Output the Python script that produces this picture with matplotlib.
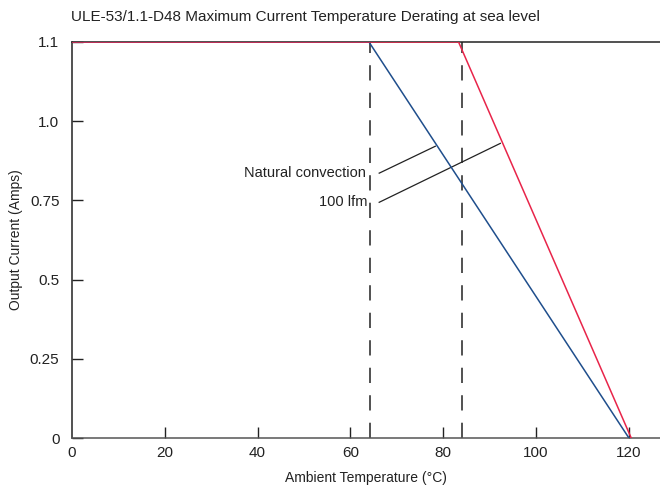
import matplotlib.pyplot as plt

plt.rcParams['font.family'] = ['Liberation Sans Narrow', 'Liberation Sans', 'DejaVu Sans']

# derating curves (x: ambient temp, y: output current in axis units; top of axis labelled 1.1)
nat_temp = [0, 64.0, 120.0]
nat_curr = [1.25, 1.25, 0.0]
lfm_temp = [0, 83.3, 120.5]
lfm_curr = [1.25, 1.25, 0.0]

# dashed reference lines
ref_temps = [64.3, 84.0]

yticks = [0, 0.25, 0.5, 0.75, 1.0, 1.25]
ytick_labels = ['0', '0.25', '0.5', '0.75', '1.0', '1.1']
xticks = [0, 20, 40, 60, 80, 100, 120]

fig = plt.figure(figsize=(6.6, 4.97), dpi=100)
ax = fig.add_axes([0.109, 0.1187, 0.891, 0.7968])

for t in ref_temps:
    ax.plot([t, t], [0, 1.25], color='#222222', lw=1.1, dashes=(10, 8), zorder=2)

ax.plot(nat_temp, nat_curr, color='#1f4e8c', lw=1.1, zorder=3)
ax.plot(lfm_temp, lfm_curr, color='#e8254a', lw=1.1, zorder=4)

# leader lines for the labels
ax.plot([66.2, 78.3], [0.836, 0.921], color='#222222', lw=0.9)
ax.plot([66.2, 92.3], [0.744, 0.93], color='#222222', lw=0.9)
ax.text(63.4, 0.836, 'Natural convection', ha='right', va='center', fontsize=10.5, color='#222222')
ax.text(63.7, 0.744, '100 lfm', ha='right', va='center', fontsize=10.5, color='#222222')

ax.set_xlim(0, 126.7)
ax.set_ylim(0, 1.25)
ax.set_xticks(xticks)
ax.set_yticks(yticks)
ax.set_yticklabels(ytick_labels)
ax.tick_params(direction='in', length=8, width=1, labelsize=11, colors='#222222', pad=6)
ax.tick_params(axis='y', pad=9)
ax.xaxis.get_major_ticks()[0].tick1line.set_visible(False)

ax.spines['right'].set_visible(False)
ax.spines['top'].set_color('#222222')
ax.spines['left'].set_color('#222222')
ax.spines['bottom'].set_color('#555555')
for s in ['top', 'left', 'bottom']:
    ax.spines[s].set_linewidth(1.1)

ax.set_xlabel('Ambient Temperature (°C)', fontsize=10, color='#222222', labelpad=8)
ax.set_ylabel('Output Current (Amps)', fontsize=10, color='#222222', labelpad=5)
fig.text(0.108, 0.965, 'ULE-53/1.1-D48 Maximum Current Temperature Derating at sea level',
         fontsize=11, color='#222222', va='center', ha='left')

fig.savefig('out.png', dpi=100)
